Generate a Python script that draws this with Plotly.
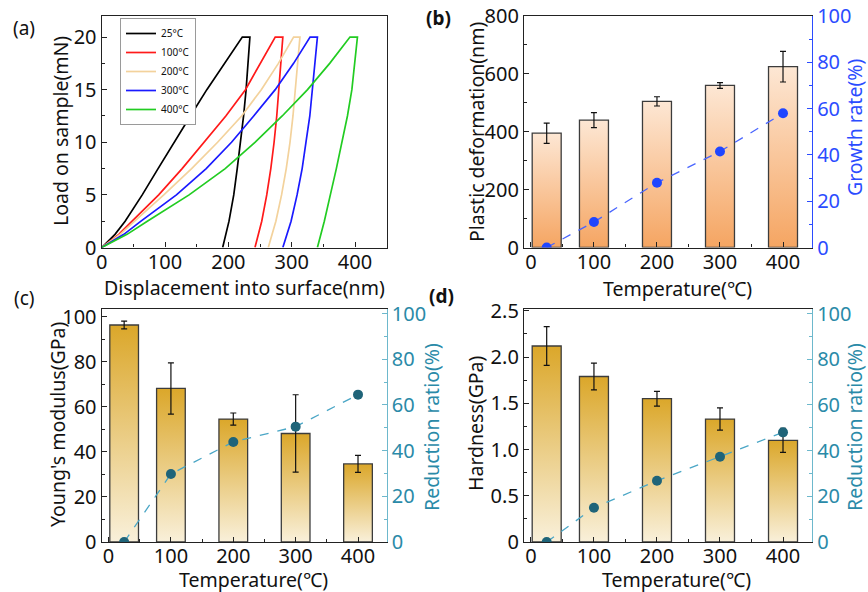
import plotly.graph_objects as go

# ---------------- data ----------------
# (a) load-displacement curves
load_path = [0, 1.25, 2.5, 5, 7.5, 10, 12.5, 15, 17.5, 20, 20, 17.5, 15, 12.5, 10, 7.5, 5, 2.5, 0]
disp_25 = [0, 21, 37, 64, 89, 114, 140, 166, 194, 222, 234, 231.5, 228, 224, 219.5, 214, 208.5, 201, 191]
disp_100 = [0, 27, 48, 90, 127, 162, 196, 227, 251, 274, 286, 283, 280, 276.4, 272.2, 267, 260.6, 252.7, 242]
disp_200 = [0, 29, 52, 98, 142, 183, 221, 252, 279, 303, 313, 309.5, 306, 302, 297.3, 291.4, 284, 275, 263]
disp_300 = [0, 35, 62, 118, 165, 205, 240, 274, 303, 329, 340.6, 336.8, 333, 328.6, 322.5, 316.5, 308.5, 299, 286]
disp_400 = [0, 40, 72, 138, 195, 242, 285, 325, 360, 392, 403.8, 400, 395, 388, 379.5, 370.5, 361, 351.5, 340.6]
curve_labels = ["25°C", "100°C", "200°C", "300°C", "400°C"]

# (b)-(d) bar panels
temps = [25, 100, 200, 300, 400]
plastic = [395, 440, 505, 560, 625]
plastic_err = [35, 26, 16, 10, 53]
growth = [0, 11, 28, 41.5, 58]
modulus = [96.4, 68.2, 54.6, 48.2, 34.7]
modulus_err = [1.7, 11.4, 2.7, 17.2, 3.8]
modulus_red = [0, 29.8, 43.8, 50.5, 64.5]
hardness = [2.12, 1.79, 1.55, 1.33, 1.10]
hardness_err = [0.21, 0.145, 0.08, 0.12, 0.13]
hardness_red = [0, 15, 26.8, 37.3, 48]
x_ticks = [0, 100, 200, 300, 400]
hard_ticks = [0, 0.5, 1.0, 1.5, 2.0, 2.5]
hard_ticktext = ["0", "0.5", "1.0", "1.5", "2.0", "2.5"]

# ---------------- style ----------------
FONT = "Noto Sans"
FS = 20      # tick labels
TFS = 19.5   # axis titles
AX = "#222222"
TXT = "#111111"
BLUE = "#2b4cff"
TEAL = "#2a8aa8"
TEAL_LINE = "#6db8cc"
BW = 46
W, H = 868, 592

fig = go.Figure()

curve_colors = ["#000000", "#ff1a1a", "#f3d29c", "#1a1aff", "#22cc22"]
for disp, lab, col in zip([disp_25, disp_100, disp_200, disp_300, disp_400], curve_labels, curve_colors):
    fig.add_trace(go.Scatter(x=disp, y=load_path, mode="lines", name=lab,
                             line=dict(color=col, width=1.7), xaxis="x", yaxis="y"))


def bar_panel(xa, ya_fill, ya_bar, ya_right, values, errs, pts, top_col, bot_col, pt_col, ln_col):
    for t, v in zip(temps, values):
        xs = [t - BW / 2, t - BW / 2, t + BW / 2, t + BW / 2, t - BW / 2]
        ys = [0, v, v, 0, 0]
        fig.add_trace(go.Scatter(x=xs, y=ys, mode="lines", fill="toself",
                                 line=dict(width=0, color=top_col),
                                 fillgradient=dict(type="vertical",
                                                   colorscale=[[0, bot_col], [1, top_col]]),
                                 showlegend=False, hoverinfo="skip",
                                 xaxis=xa, yaxis=ya_fill))
    fig.add_trace(go.Bar(x=temps, y=values, width=BW,
                         marker=dict(color="rgba(0,0,0,0)", line=dict(color="#3c3c3c", width=1.3)),
                         error_y=dict(type="data", array=errs, color="#111111", thickness=1.2, width=3),
                         showlegend=False, xaxis=xa, yaxis=ya_bar))
    fig.add_trace(go.Scatter(x=temps, y=pts, mode="lines+markers",
                             line=dict(color=ln_col, width=1.3, dash="dash"),
                             marker=dict(color=pt_col, size=10),
                             showlegend=False, xaxis=xa, yaxis=ya_right))


bar_panel("x2", "y2", "y3", "y4", plastic, plastic_err, growth,
          "#fde7d4", "#f5a562", "#2046ff", "#4a66ff")
bar_panel("x3", "y5", "y6", "y7", modulus, modulus_err, modulus_red,
          "#dba72a", "#f9f0da", "#1f6479", "#4aa6c6")
bar_panel("x4", "y8", "y9", "y10", hardness, hardness_err, hardness_red,
          "#dba72a", "#f9f0da", "#1f6479", "#4aa6c6")

dom_lx = [101.7 / W, 386.7 / W]
dom_rx = [524 / W, 812 / W]
dom_top = [1 - 247.5 / H, 1 - 16 / H]
dom_bot = [1 - 542 / H, 1 - 309 / H]
XR = [-11, 446]


def xax(domain, anchor, rng, tickvals, minor_dtick):
    return dict(domain=domain, anchor=anchor, range=rng, showline=True, mirror=True,
                linecolor=AX, linewidth=1.3, ticks="inside", ticklen=5, tickcolor=AX,
                tickvals=tickvals, showgrid=False, zeroline=False, automargin=False,
                ticklabelstandoff=-4,
                minor=dict(ticks="inside", ticklen=3, dtick=minor_dtick, tick0=0, tickcolor=AX),
                tickfont=dict(family=FONT, size=FS, color=TXT))


def yax(domain, anchor, rng, dtick, minor_dtick, color=TXT, linecolor=AX, side="left",
        overlaying=None, mirror=False, tickvals=None, ticktext=None):
    d = dict(domain=domain, anchor=anchor, range=rng, showline=True, mirror=mirror,
             linecolor=linecolor, linewidth=1.3, ticks="inside", ticklen=5, tickcolor=linecolor,
             showgrid=False, zeroline=False, automargin=False, side=side,
             minor=dict(ticks="inside", ticklen=3, dtick=minor_dtick, tick0=0, tickcolor=linecolor),
             tickfont=dict(family=FONT, size=FS, color=color))
    if tickvals is not None:
        d["tickvals"] = tickvals
        d["ticktext"] = ticktext
    else:
        d["dtick"] = dtick
        d["tick0"] = 0
    if overlaying:
        d["overlaying"] = overlaying
    return d


def hidden(overlaying, anchor, rng):
    return dict(overlaying=overlaying, anchor=anchor, range=rng, visible=False,
                showgrid=False, zeroline=False)


fig.update_layout(
    width=W, height=H, margin=dict(l=0, r=0, t=0, b=0),
    paper_bgcolor="white", plot_bgcolor="rgba(0,0,0,0)",
    font=dict(family=FONT, size=FS, color=TXT),
    showlegend=True,
    legend=dict(x=120 / W, y=1 - 18 / H, xanchor="left", yanchor="top",
                bgcolor="white", bordercolor="#9a9a9a", borderwidth=1,
                font=dict(family=FONT, size=10, color=TXT), tracegroupgap=0,
                itemwidth=30),
    xaxis=xax(dom_lx, "y", [0, 450], x_ticks, 50),
    yaxis=yax(dom_top, "x", [0, 22], 5, 2.5, mirror=True),
    xaxis2=xax(dom_rx, "y2", XR, x_ticks, 50),
    yaxis2=yax(dom_top, "x2", [0, 800], 200, 100),
    yaxis3=hidden("y2", "x2", [0, 800]),
    yaxis4=yax(dom_top, "x2", [0, 100], 20, 10, color=BLUE, linecolor=BLUE,
               side="right", overlaying="y2"),
    xaxis3=xax(dom_lx, "y5", XR, x_ticks, 50),
    yaxis5=yax(dom_bot, "x3", [0, 103.5], 20, 10),
    yaxis6=hidden("y5", "x3", [0, 103.5]),
    yaxis7=yax(dom_bot, "x3", [0, 102], 20, 10, color=TEAL, linecolor=TEAL_LINE,
               side="right", overlaying="y5"),
    xaxis4=xax(dom_rx, "y8", XR, x_ticks, 50),
    yaxis8=yax(dom_bot, "x4", [0, 2.52], None, 0.25, tickvals=hard_ticks, ticktext=hard_ticktext),
    yaxis9=hidden("y8", "x4", [0, 2.52]),
    yaxis10=yax(dom_bot, "x4", [0, 102], 20, 10, color=TEAL, linecolor=TEAL_LINE,
                side="right", overlaying="y8"),
)

# axis titles (text, center x px, center y px, angle, colour)
axis_titles = [
    ("Displacement into surface(nm)", 244, 287, 0, TXT),
    ("Load on sample(mN)", 60, 131, -90, TXT),
    ("Temperature(℃)", 677, 288, 0, TXT),
    ("Plastic deformation(nm)", 476, 132, -90, TXT),
    ("Growth rate(%)", 854, 128, -90, BLUE),
    ("Temperature(℃)", 253, 579, 0, TXT),
    ("Young's modulus(GPa)", 57, 424, -90, TXT),
    ("Reduction ratio(%)", 431, 427, -90, TEAL),
    ("Temperature(℃)", 676, 579, 0, TXT),
    ("Hardness(GPa)", 476, 423, -90, TXT),
    ("Reduction ratio(%)", 854, 427, -90, TEAL),
]
for txt, px, py, ang, col in axis_titles:
    fig.add_annotation(x=px / W, y=1 - py / H, xref="paper", yref="paper", showarrow=False,
                       text=txt, textangle=ang, xanchor="center", yanchor="middle",
                       font=dict(family=FONT, size=TFS, color=col))

panel_labels = [("(a)", 24, 28, False), ("(b)", 438, 18, True), ("(c)", 24, 298, False), ("(d)", 441, 296, True)]
for txt, px, py, bold in panel_labels:
    fig.add_annotation(x=px / W, y=1 - py / H, xref="paper", yref="paper", showarrow=False,
                       text=f"<b>{txt}</b>" if bold else txt,
                       font=dict(family=FONT, size=19, color=TXT), xanchor="center", yanchor="middle")

fig.write_html("out.html", config={"displayModeBar": False},
               post_script="document.body.style.margin='0';document.body.style.padding='0';")
